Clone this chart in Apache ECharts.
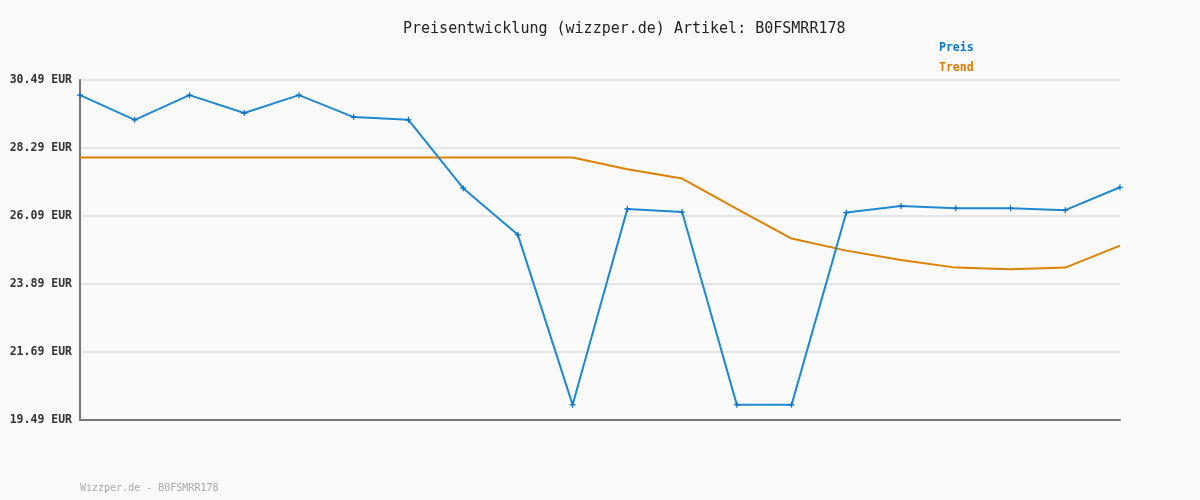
<!DOCTYPE html>
<html>
<head>
<meta charset="utf-8">
<script src="https://cdn.jsdelivr.net/npm/echarts@6/dist/echarts.min.js"></script>
<style>
html,body{margin:0;padding:0;background:#fafafa;}
#chart{width:1200px;height:500px;}
</style>
</head>
<body>
<div id="chart"></div>
<script>
const categories = ['1','2','3','4','5','6','7','8','9','10','11','12','13','14','15','16','17','18','19','20'];
const preis = [30.00, 29.20, 30.00, 29.42, 30.00, 29.29, 29.20, 26.99, 25.48, 19.98, 26.32, 26.22, 19.98, 19.98, 26.20, 26.41, 26.34, 26.34, 26.28, 27.02];
const trend = [27.98, 27.98, 27.98, 27.98, 27.98, 27.98, 27.98, 27.98, 27.98, 27.98, 27.60, 27.30, 26.32, 25.36, 24.97, 24.67, 24.42, 24.37, 24.42, 25.13];
const yTicks = [19.49, 21.69, 23.89, 26.09, 28.29, 30.49];

const mono = '"DejaVu Sans Mono", "Liberation Mono", monospace';
const chart = echarts.init(document.getElementById('chart'), null, {renderer: 'canvas'});
chart.setOption({
  backgroundColor: '#fafafa',
  animation: false,
  title: {
    text: 'Preisentwicklung (wizzper.de) Artikel: B0FSMRR178',
    left: 398, top: 17,
    textStyle: {fontFamily: mono, fontSize: 15, fontWeight: 'normal', color: '#222'}
  },
  legend: {
    orient: 'vertical', left: 929, top: 37, itemGap: 8,
    itemWidth: 0, itemHeight: 0, icon: 'rect',
    data: [
      {name: 'Preis', textStyle: {color: '#0a78c8'}},
      {name: 'Trend', textStyle: {color: '#d97a00'}}
    ],
    textStyle: {fontFamily: mono, fontSize: 11.5, fontWeight: 'bold', padding: 0}
  },
  graphic: [{
    type: 'text', left: 80, top: 483,
    style: {text: 'Wizzper.de - B0FSMRR178', font: '10px ' + mono, fill: '#aaa'}
  }],
  grid: {left: 80, right: 80, top: 80, bottom: 80, containLabel: false},
  xAxis: {
    type: 'category', data: categories, boundaryGap: false,
    axisLine: {lineStyle: {color: '#777', width: 2}},
    axisTick: {show: false}, axisLabel: {show: false}, splitLine: {show: false}
  },
  yAxis: {
    type: 'value', min: 19.49, max: 30.49,
    axisLine: {show: true, lineStyle: {color: '#777', width: 2}},
    axisTick: {show: false, customValues: yTicks},
    axisLabel: {
      customValues: yTicks,
      formatter: v => v.toFixed(2) + ' EUR',
      fontFamily: mono, fontSize: 11.5, fontWeight: 'bold', color: '#333', margin: 8
    },
    splitLine: {show: true, lineStyle: {color: '#e4e4e4', width: 2}}
  },
  series: [
    {
      name: 'Preis', type: 'line', data: preis,
      symbol: 'path://M2,0H3V2H5V3H3V5H2V3H0V2H2Z', symbolSize: 6, showAllSymbol: true,
      itemStyle: {color: '#0a6fc0'},
      lineStyle: {color: '#1e88d2', width: 2},
      z: 3
    },
    {
      name: 'Trend', type: 'line', data: trend,
      symbol: 'none',
      itemStyle: {color: '#e08000'},
      lineStyle: {color: '#e08000', width: 2},
      z: 2
    }
  ]
});
</script>
</body>
</html>
